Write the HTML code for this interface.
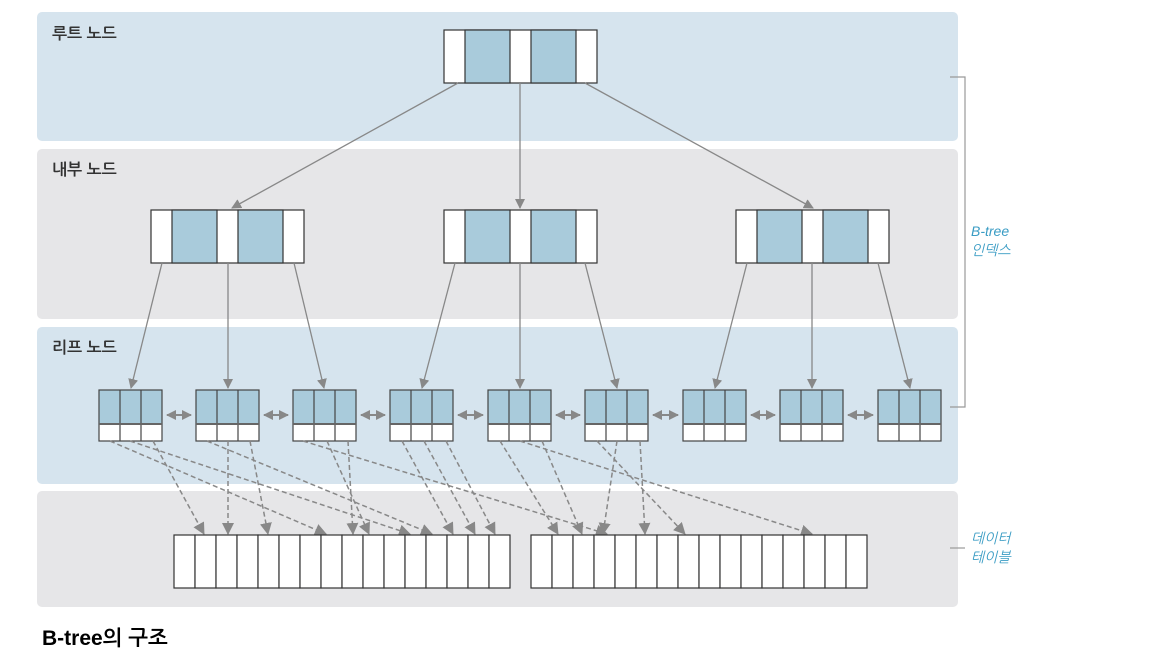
<!DOCTYPE html>
<html><head><meta charset="utf-8"><style>
html,body{margin:0;padding:0;background:#fff;}
svg{display:block;}
.lbl{font-family:"Liberation Sans","NanumGothic","Noto Sans CJK KR",sans-serif;font-size:16px;fill:#333;font-weight:bold;}
.side{font-family:"Liberation Sans","NanumGothic","Noto Sans CJK KR",sans-serif;font-size:14px;fill:#3a9cc4;font-style:italic;}
</style></head><body>
<svg width="1163" height="658" viewBox="0 0 1163 658" xmlns="http://www.w3.org/2000/svg">
<defs>
<marker id="a" markerWidth="10" markerHeight="10" refX="9" refY="5" orient="auto" markerUnits="userSpaceOnUse"><path d="M0,0 L10,5 L0,10 z" fill="#888"/></marker>
<marker id="b" markerWidth="12" markerHeight="12" refX="11" refY="6" orient="auto" markerUnits="userSpaceOnUse"><path d="M0,0 L12,6 L0,12 z" fill="#888"/></marker>
<marker id="s" markerWidth="10" markerHeight="10" refX="1" refY="5" orient="auto" markerUnits="userSpaceOnUse"><path d="M10,0 L0,5 L10,10 z" fill="#888"/></marker>
<g id="leaf">
<rect x="0" y="0" width="63" height="34" fill="#a9cbdb"/>
<rect x="0" y="34" width="63" height="17" fill="#fff"/>
<g fill="none" stroke="#444" stroke-width="1.2">
<rect x="0" y="0" width="63" height="51"/>
<line x1="21" y1="0" x2="21" y2="51"/><line x1="42" y1="0" x2="42" y2="51"/>
</g>
<line x1="0" y1="34" x2="63" y2="34" stroke="#666" stroke-width="2"/>
</g>
<g id="inode">
<rect x="0" y="0" width="153" height="53" fill="#fff" stroke="#333" stroke-width="1.2"/>
<rect x="21" y="0" width="45" height="53" fill="#a9cbdb" stroke="#333" stroke-width="1.2"/>
<rect x="87" y="0" width="45" height="53" fill="#a9cbdb" stroke="#333" stroke-width="1.2"/>
</g>
<g id="cell"><rect x="0" y="0" width="21" height="53" fill="#fff" stroke="#333" stroke-width="1.2"/></g>
</defs>

<rect x="37" y="12" width="921" height="129" rx="5" fill="#d6e4ee"/>
<rect x="37" y="149" width="921" height="170" rx="5" fill="#e6e6e8"/>
<rect x="37" y="327" width="921" height="157" rx="5" fill="#d6e4ee"/>
<rect x="37" y="491" width="921" height="116" rx="5" fill="#e6e6e8"/>

<text class="lbl" x="52" y="39">루트 노드</text>
<text class="lbl" x="52" y="175">내부 노드</text>
<text class="lbl" x="52" y="353">리프 노드</text>

<use href="#inode" x="444" y="30"/>
<use href="#inode" x="151" y="210"/>
<use href="#inode" x="444" y="210"/>
<use href="#inode" x="736" y="210"/>

<g stroke="#888" stroke-width="1.3" fill="none" marker-end="url(#a)">
<line x1="458" y1="83" x2="232" y2="208"/>
<line x1="520" y1="83" x2="520" y2="208"/>
<line x1="585" y1="83" x2="813" y2="208"/>
<line x1="162" y1="263" x2="131" y2="388"/>
<line x1="228" y1="263" x2="228" y2="388"/>
<line x1="294" y1="263" x2="324" y2="388"/>
<line x1="455" y1="263" x2="422" y2="388"/>
<line x1="520" y1="263" x2="520" y2="388"/>
<line x1="585" y1="263" x2="617" y2="388"/>
<line x1="747" y1="263" x2="715" y2="388"/>
<line x1="812" y1="263" x2="812" y2="388"/>
<line x1="878" y1="263" x2="910" y2="388"/>
</g>

<use href="#leaf" x="99" y="390"/>
<use href="#leaf" x="196" y="390"/>
<use href="#leaf" x="293" y="390"/>
<use href="#leaf" x="390" y="390"/>
<use href="#leaf" x="488" y="390"/>
<use href="#leaf" x="585" y="390"/>
<use href="#leaf" x="683" y="390"/>
<use href="#leaf" x="780" y="390"/>
<use href="#leaf" x="878" y="390"/>

<g stroke="#888" stroke-width="2" fill="none" marker-end="url(#a)" marker-start="url(#s)">
<line x1="167" y1="415" x2="191" y2="415"/>
<line x1="264" y1="415" x2="288" y2="415"/>
<line x1="361" y1="415" x2="385" y2="415"/>
<line x1="458" y1="415" x2="483" y2="415"/>
<line x1="556" y1="415" x2="580" y2="415"/>
<line x1="653" y1="415" x2="678" y2="415"/>
<line x1="751" y1="415" x2="775" y2="415"/>
<line x1="848" y1="415" x2="873" y2="415"/>
</g>

<g stroke="#888" stroke-width="1.5" fill="none" stroke-dasharray="5,3" marker-end="url(#b)">
<line x1="110" y1="441" x2="326" y2="534"/>
<line x1="130" y1="441" x2="410" y2="534"/>
<line x1="153" y1="441" x2="204" y2="534"/>
<line x1="207" y1="441" x2="432" y2="534"/>
<line x1="228" y1="441" x2="228" y2="534"/>
<line x1="250" y1="441" x2="268" y2="534"/>
<line x1="303" y1="441" x2="607" y2="534"/>
<line x1="327" y1="441" x2="369" y2="534"/>
<line x1="348" y1="441" x2="353" y2="534"/>
<line x1="402" y1="441" x2="453" y2="534"/>
<line x1="424" y1="441" x2="475" y2="534"/>
<line x1="446" y1="441" x2="495" y2="534"/>
<line x1="500" y1="441" x2="558" y2="534"/>
<line x1="520" y1="441" x2="812" y2="534"/>
<line x1="542" y1="441" x2="582" y2="534"/>
<line x1="597" y1="441" x2="685" y2="534"/>
<line x1="617" y1="441" x2="603" y2="534"/>
<line x1="640" y1="441" x2="645" y2="534"/>
</g>

<g>
<use href="#cell" x="174" y="535"/><use href="#cell" x="195" y="535"/><use href="#cell" x="216" y="535"/><use href="#cell" x="237" y="535"/>
<use href="#cell" x="258" y="535"/><use href="#cell" x="279" y="535"/><use href="#cell" x="300" y="535"/><use href="#cell" x="321" y="535"/>
<use href="#cell" x="342" y="535"/><use href="#cell" x="363" y="535"/><use href="#cell" x="384" y="535"/><use href="#cell" x="405" y="535"/>
<use href="#cell" x="426" y="535"/><use href="#cell" x="447" y="535"/><use href="#cell" x="468" y="535"/><use href="#cell" x="489" y="535"/>
<use href="#cell" x="531" y="535"/><use href="#cell" x="552" y="535"/><use href="#cell" x="573" y="535"/><use href="#cell" x="594" y="535"/>
<use href="#cell" x="615" y="535"/><use href="#cell" x="636" y="535"/><use href="#cell" x="657" y="535"/><use href="#cell" x="678" y="535"/>
<use href="#cell" x="699" y="535"/><use href="#cell" x="720" y="535"/><use href="#cell" x="741" y="535"/><use href="#cell" x="762" y="535"/>
<use href="#cell" x="783" y="535"/><use href="#cell" x="804" y="535"/><use href="#cell" x="825" y="535"/><use href="#cell" x="846" y="535"/>
</g>

<g stroke="#999" stroke-width="1.2" fill="none">
<polyline points="950,77 965,77 965,407 950,407"/>
<line x1="950" y1="548" x2="965" y2="548"/>
</g>
<text class="side" x="971" y="236">B-tree</text>
<text class="side" x="971" y="255">인덱스</text>
<text class="side" x="971" y="543">데이터</text>
<text class="side" x="971" y="562">테이블</text>

<text x="42" y="645" font-family="'Liberation Sans','NanumGothic','Noto Sans CJK KR',sans-serif" font-size="21" font-weight="bold" fill="#000">B-tree의 구조</text>
</svg>
</body></html>
